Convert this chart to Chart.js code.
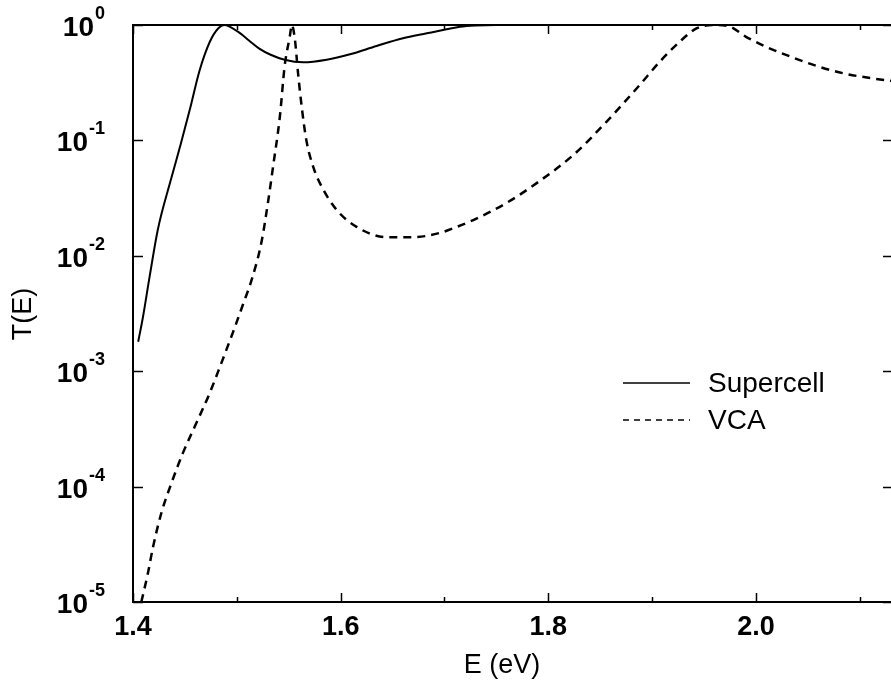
<!DOCTYPE html>
<html>
<head>
<meta charset="utf-8">
<script src="https://cdn.jsdelivr.net/npm/chart.js@4.4.0/dist/chart.umd.min.js"></script>
<style>
  html, body { margin: 0; padding: 0; background: #fff; overflow: hidden; }
  #wrap { width: 896px; height: 684px; }
</style>
</head>
<body>
<div id="wrap"><canvas id="c" width="896" height="684"></canvas></div>
<script>
// Supercell transmission
const scE = [1.405, 1.4096, 1.416, 1.424, 1.4366, 1.446, 1.4546, 1.464, 1.474, 1.482, 1.488, 1.501, 1.512, 1.522, 1.532, 1.546, 1.564, 1.5865, 1.609, 1.6346, 1.66, 1.683, 1.702, 1.715, 1.73, 1.75, 1.8, 1.9, 2.0, 2.14];
const scT = [1.8e-3, 2.95e-3, 6.6e-3, 1.7e-2, 4.6e-2, 9.3e-2, 0.183, 0.40, 0.716, 0.933, 1.0, 0.875, 0.73, 0.62, 0.555, 0.50, 0.475, 0.50, 0.557, 0.658, 0.767, 0.847, 0.918, 0.966, 0.99, 1.0, 1.0, 1.0, 1.0, 1.0];

// VCA transmission
const vcaE = [1.408, 1.4144, 1.4193, 1.4273, 1.437, 1.448, 1.461, 1.474, 1.485, 1.496, 1.506, 1.515, 1.524, 1.530, 1.535, 1.5415, 1.546, 1.551, 1.553, 1.556, 1.559, 1.5625, 1.567, 1.5736, 1.5817, 1.596, 1.6154, 1.644, 1.67, 1.6956, 1.7117, 1.7277, 1.76, 1.792, 1.824, 1.856, 1.888, 1.9074, 1.9267, 1.9427, 1.958, 1.975, 1.99, 2.01, 2.035, 2.06, 2.085, 2.11, 2.135];
const vcaT = [1.0e-5, 1.78e-5, 3.0e-5, 5.9e-5, 1.07e-4, 1.95e-4, 3.55e-4, 6.5e-4, 1.17e-3, 2.14e-3, 3.8e-3, 6.5e-3, 1.35e-2, 2.9e-2, 6.0e-2, 0.162, 0.436, 0.794, 1.0, 0.74, 0.38, 0.195, 0.1, 0.059, 0.0398, 0.0251, 0.0178, 0.0145, 0.0145, 0.0158, 0.0178, 0.0204, 0.0288, 0.0447, 0.0746, 0.145, 0.302, 0.481, 0.718, 0.933, 1.0, 0.966, 0.794, 0.646, 0.525, 0.437, 0.380, 0.347, 0.324];

const xMajor = [1.4, 1.6, 1.8, 2.0];
const xMinor = [1.5, 1.7, 1.9, 2.1];
const yExps = [0, -1, -2, -3, -4, -5];

const legendNames = ['Supercell', 'VCA'];

const FONT = '"Liberation Sans", Arial, Helvetica, sans-serif';

const toPts = (xs, ys) => xs.map((x, i) => ({ x: x, y: ys[i] }));

// draws frame, inward ticks, labels and legend
const decor = {
  id: 'decor',
  afterDraw(chart) {
    const ctx = chart.ctx;
    const a = chart.chartArea;
    const xs = chart.scales.x;
    const ys = chart.scales.y;
    ctx.save();
    ctx.strokeStyle = '#000';
    ctx.fillStyle = '#000';

    // frame
    ctx.lineWidth = 2;
    ctx.strokeRect(a.left, a.top, a.right - a.left, a.bottom - a.top);

    // x ticks, bottom and top
    ctx.lineWidth = 1.5;
    xMajor.concat(xMinor).forEach(v => {
      const px = Math.round(xs.getPixelForValue(v)) + 0.5;
      const len = xMajor.includes(v) ? 9 : 5;
      ctx.beginPath();
      ctx.moveTo(px, a.bottom); ctx.lineTo(px, a.bottom - len);
      ctx.moveTo(px, a.top); ctx.lineTo(px, a.top + len);
      ctx.stroke();
    });
    // y ticks, left and right
    yExps.forEach(e => {
      const py = Math.round(ys.getPixelForValue(Math.pow(10, e))) + 0.5;
      ctx.beginPath();
      ctx.moveTo(a.left, py); ctx.lineTo(a.left + 10, py);
      ctx.moveTo(a.right, py); ctx.lineTo(a.right - 10, py);
      ctx.stroke();
    });

    // x tick labels
    ctx.font = 'bold 27px ' + FONT;
    ctx.textAlign = 'center';
    ctx.textBaseline = 'middle';
    xMajor.forEach(v => {
      ctx.fillText(v.toFixed(1), xs.getPixelForValue(v), a.bottom + 26);
    });

    // y tick labels 10^n
    yExps.forEach(e => {
      const py = ys.getPixelForValue(Math.pow(10, e));
      const ex = String(e);
      ctx.font = 'bold 18px ' + FONT;
      const ew = ctx.measureText(ex).width;
      ctx.textAlign = 'left';
      ctx.textBaseline = 'alphabetic';
      const right = 105;
      ctx.fillText(ex, right - ew, py - 6);
      ctx.font = 'bold 28px ' + FONT;
      ctx.textAlign = 'right';
      ctx.fillText('10', right - ew - 1, py + 11);
    });

    // axis titles
    ctx.font = '27px ' + FONT;
    ctx.textAlign = 'center';
    ctx.textBaseline = 'middle';
    ctx.fillText('E (eV)', 502, 666);
    ctx.save();
    ctx.translate(24, 314);
    ctx.rotate(-Math.PI / 2);
    ctx.fillText('T(E)', 0, 0);
    ctx.restore();

    // legend
    const rows = [383, 420];
    ctx.lineWidth = 1.5;
    rows.forEach((y, i) => {
      ctx.setLineDash(i === 0 ? [] : [6, 5]);
      ctx.beginPath();
      ctx.moveTo(623, y); ctx.lineTo(690, y);
      ctx.stroke();
      ctx.setLineDash([]);
      ctx.font = '28px ' + FONT;
      ctx.textAlign = 'left';
      ctx.textBaseline = 'middle';
      ctx.fillText(legendNames[i], 708, y + 1);
    });
    ctx.restore();
  }
};

new Chart(document.getElementById('c'), {
  type: 'line',
  data: {
    datasets: [
      {
        label: legendNames[0],
        data: toPts(scE, scT),
        borderColor: '#000',
        borderWidth: 2,
        pointRadius: 0,
        fill: false,
        cubicInterpolationMode: 'monotone'
      },
      {
        label: legendNames[1],
        data: toPts(vcaE, vcaT),
        borderColor: '#000',
        borderWidth: 2.5,
        borderDash: [8, 6],
        pointRadius: 0,
        fill: false,
        cubicInterpolationMode: 'monotone'
      }
    ]
  },
  options: {
    responsive: false,
    animation: false,
    layout: { padding: { top: 25, right: 3, left: 0, bottom: 0 } },
    plugins: {
      legend: { display: false },
      tooltip: { enabled: false }
    },
    scales: {
      x: {
        type: 'linear',
        min: 1.4,
        max: 2.132,
        grid: { display: false },
        border: { display: false },
        ticks: { display: false },
        afterFit: s => { s.height = 82; }
      },
      y: {
        type: 'logarithmic',
        min: 1e-5,
        max: 1,
        grid: { display: false },
        border: { display: false },
        ticks: { display: false },
        afterFit: s => { s.width = 133; }
      }
    }
  },
  plugins: [decor]
});
</script>
</body>
</html>
